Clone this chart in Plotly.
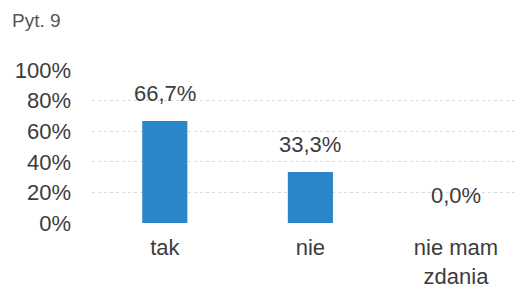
import plotly.graph_objects as go

categories = ["tak", "nie", "nie mam<br>zdania"]
values = [66.7, 33.3, 0.0]
value_labels = ["66,7%", "33,3%", "0,0%"]
y_tick_vals = [0, 20, 40, 60, 80, 100]
y_tick_text = ["0%", "20%", "40%", "60%", "80%", "100%"]
title_text = "Pyt. 9"

FONT = "Liberation Sans, Arial, sans-serif"
TXT = "#3c3c3c"

fig = go.Figure()
fig.add_trace(go.Bar(
    x=categories, y=values,
    marker=dict(color="#2b85c9", line=dict(width=0)),
    width=0.31,
    hoverinfo="skip",
))

for c, v, t in zip(categories, values, value_labels):
    fig.add_annotation(x=c, y=v, text=t, showarrow=False, xref="x", yref="y",
                       yanchor="bottom", yshift=13,
                       font=dict(family=FONT, size=22, color=TXT))

fig.add_annotation(text=title_text, xref="paper", yref="paper", x=0, y=1,
                   xanchor="left", yanchor="top", showarrow=False,
                   xshift=-82, yshift=62,
                   font=dict(family=FONT, size=19, color="#555555"))

fig.update_layout(
    width=518, height=289,
    margin=dict(l=92, r=0, t=70, b=66),
    paper_bgcolor="white", plot_bgcolor="white",
    showlegend=False,
    font=dict(family=FONT, size=22, color=TXT),
    xaxis=dict(range=[-0.5, 2.426], showgrid=False, showline=False, zeroline=False,
               ticks="", ticklabelstandoff=9, automargin=False,
               tickfont=dict(family=FONT, size=22, color=TXT)),
    yaxis=dict(range=[0, 100], tickvals=y_tick_vals, ticktext=y_tick_text,
               showgrid=True, gridcolor="#d9d9d9", gridwidth=1, griddash="dot",
               zeroline=False, showline=False, ticks="", ticklabelstandoff=20,
               automargin=False,
               tickfont=dict(family=FONT, size=22, color=TXT)),
)

fig.write_html("out.html",
               config={"displayModeBar": False, "staticPlot": True},
               post_script="document.body.style.margin='0';document.body.style.overflow='hidden';")
